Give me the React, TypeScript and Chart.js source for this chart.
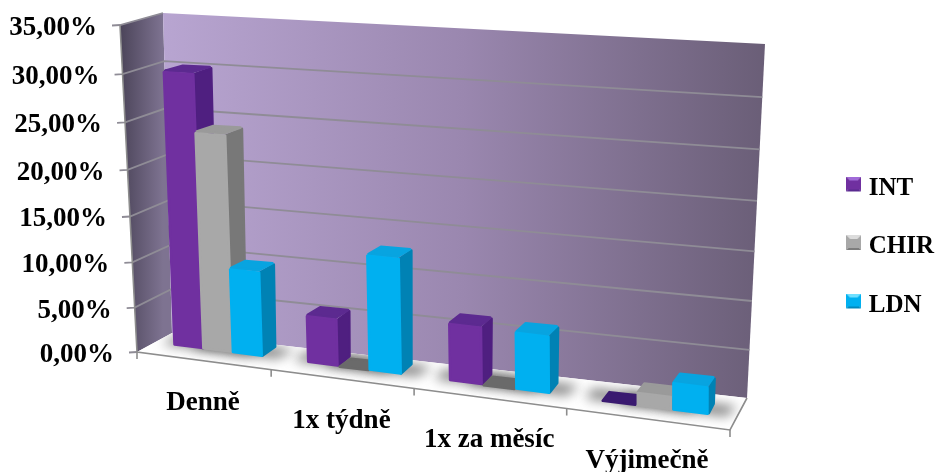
import React, { useEffect, useRef } from "react";
import { Chart, registerables } from "chart.js";

Chart.register(...registerables);

const categories = ["Denně", "1x týdně", "1x za měsíc", "Výjimečně"];
const intValues = [29.9, 5.3, 6.3, 0];
const chirValues = [23.8, 0, 0, 1.4];
const ldnValues = [9.5, 12.6, 6.2, 2.9];
const axisMax = 35;
const axisStep = 5;

const palette = {
  INT: { front: "#7030a0", side: "#4f1f80", top: "#5c2a90", flat: "#3a1a70", light: "#a06ad8", dark: "#5a2a90" },
  CHIR: { front: "#a8a8a8", side: "#787878", top: "#9a9a9a", flat: "#6a6a6a", light: "#dcdcdc", dark: "#7c7c7c" },
  LDN: { front: "#00b0f0", side: "#0082b4", top: "#08a4e0", flat: "#0a80b0", light: "#70e0ff", dark: "#0088bc" },
};

const serif = "'Liberation Serif', 'Times New Roman', serif";

// Corners of the box the plot stands in, on screen: F = front plane, B = back wall;
// first index is along the categories, second along the values.
const F00 = [137, 352];
const F10 = [730, 430];
const F01 = [120, 25];
const F11 = [725, 69];
const B00 = [172, 333];
const B10 = [747, 398];
const B01 = [163, 13];
const B11 = [765, 44];
const PERSPECTIVE_U = 1.14;
const PERSPECTIVE_V = 1.06;

const mix = (a: number, b: number, t: number) => a + (b - a) * t;

function project(u: number, v: number, w: number): [number, number] {
  const pu = u / (u + PERSPECTIVE_U * (1 - u));
  const pv = v / (v + PERSPECTIVE_V * (1 - v));
  const at = (i: number) =>
    mix(
      mix(mix(F00[i], F10[i], pu), mix(F01[i], F11[i], pu), pv),
      mix(mix(B00[i], B10[i], pu), mix(B01[i], B11[i], pu), pv),
      w
    );
  return [at(0), at(1)];
}

// Depth span of a column on the floor, which narrows toward the far side.
function depthSpan(u: number): [number, number] {
  const pu = u / (u + PERSPECTIVE_U * (1 - u));
  return [mix(0.46, 0.36, pu), mix(0.9, 0.66, pu)];
}

function poly(ctx: CanvasRenderingContext2D, pts: [number, number][]) {
  ctx.beginPath();
  pts.forEach((p, i) => (i ? ctx.lineTo(p[0], p[1]) : ctx.moveTo(p[0], p[1])));
  ctx.closePath();
}

// Fills a face with softened corners: pulled in a little, then stroked back out with round joins.
function fillFace(ctx: CanvasRenderingContext2D, pts: [number, number][], color: string) {
  const cx = pts.reduce((s, p) => s + p[0], 0) / pts.length;
  const cy = pts.reduce((s, p) => s + p[1], 0) / pts.length;
  const inset = 1.5;
  const inner = pts.map((p): [number, number] => {
    const dx = cx - p[0];
    const dy = cy - p[1];
    const len = Math.hypot(dx, dy) || 1;
    const k = Math.min(inset, len * 0.5);
    return [p[0] + (dx / len) * k, p[1] + (dy / len) * k];
  });
  poly(ctx, inner);
  ctx.fillStyle = color;
  ctx.fill();
  ctx.strokeStyle = color;
  ctx.lineWidth = 2.5;
  ctx.lineJoin = "round";
  ctx.stroke();
}

// Bevelled square used as the legend key; the empty strip below it lifts the square
// level with the capitals of the legend text.
function legendKey(c: { front: string; light: string; dark: string; side: string }) {
  const s = 15;
  const cv = document.createElement("canvas");
  cv.width = s;
  cv.height = s + 9;
  const g = cv.getContext("2d")!;
  const m = s / 2;
  const tri = (x1: number, y1: number, x2: number, y2: number, col: string) => {
    g.beginPath();
    g.moveTo(m, m);
    g.lineTo(x1, y1);
    g.lineTo(x2, y2);
    g.closePath();
    g.fillStyle = col;
    g.fill();
  };
  tri(0, 0, s, 0, c.light);
  tri(0, 0, 0, s, c.front);
  tri(s, 0, s, s, c.front);
  tri(0, s, s, s, c.dark);
  g.fillStyle = c.front;
  g.fillRect(2, 4, s - 4, s - 6);
  return cv;
}

const box3d = {
  id: "box3d",
  beforeDatasetsDraw(chart: any) {
    const { ctx, chartArea: area } = chart;
    const xs = chart.scales.x;
    const ys = chart.scales.y;
    const uOf = (px: number) => (px - area.left) / (area.right - area.left);
    const vOf = (px: number) => (area.bottom - px) / (area.bottom - area.top);

    ctx.save();

    // side wall
    let grad = ctx.createLinearGradient(F01[0], 0, B01[0], 0);
    grad.addColorStop(0, "#4b4459");
    grad.addColorStop(1, "#7e7391");
    poly(ctx, [project(0, 0, 0), project(0, 1, 0), project(0, 1, 1), project(0, 0, 1)]);
    ctx.fillStyle = grad;
    ctx.fill();

    // back wall
    grad = ctx.createLinearGradient(B01[0], 0, B11[0], 0);
    grad.addColorStop(0, "#b8a5d1");
    grad.addColorStop(0.5, "#9a87af");
    grad.addColorStop(1, "#6a5e77");
    poly(ctx, [project(0, 0, 1), project(0, 1, 1), project(1, 1, 1), project(1, 0, 1)]);
    ctx.fillStyle = grad;
    ctx.fill();

    // floor
    poly(ctx, [project(0, 0, 0), project(1, 0, 0), project(1, 0, 1), project(0, 0, 1)]);
    ctx.fillStyle = "#ffffff";
    ctx.fill();

    // value gridlines on both walls, with their outer ticks
    ys.ticks.forEach((t: any, i: number) => {
      const v = vOf(ys.getPixelForValue(t.value));
      const f = project(0, v, 0);
      const b = project(0, v, 1);
      const r = project(1, v, 1);
      ctx.strokeStyle = "#8f8c96";
      ctx.lineWidth = 1.8;
      ctx.beginPath();
      ctx.moveTo(f[0] - 8, f[1] + 0.5);
      ctx.lineTo(f[0], f[1]);
      if (i > 0) {
        ctx.lineTo(b[0], b[1]);
        if (t.value < axisMax) ctx.lineTo(r[0], r[1]);
      }
      ctx.stroke();
    });

    // box edges
    ctx.strokeStyle = "#8d8d8d";
    ctx.lineWidth = 1.6;
    ctx.beginPath();
    const c0 = project(0, 1, 0);
    const c1 = project(0, 0, 0);
    const c2 = project(1, 0, 0);
    const c3 = project(1, 0, 1);
    ctx.moveTo(c0[0], c0[1]);
    ctx.lineTo(c1[0], c1[1]);
    ctx.lineTo(c2[0], c2[1]);
    ctx.lineTo(c3[0], c3[1]);
    ctx.stroke();

    // category ticks below the floor's front edge
    categories.concat("").forEach((_, i) => {
      const p = project(uOf(xs.getPixelForValue(i - 0.5)), 0, 0);
      ctx.beginPath();
      ctx.moveTo(p[0], p[1]);
      ctx.lineTo(p[0], p[1] + 7);
      ctx.stroke();
    });

    const columns: any[] = [];
    categories.forEach((_, j) => {
      chart.data.datasets.forEach((ds: any, d: number) => {
        const el = chart.getDatasetMeta(d).data[j];
        const u0 = uOf(el.x - el.width / 2);
        const u1 = uOf(el.x + el.width / 2);
        const [w0, w1] = depthSpan((u0 + u1) / 2);
        columns.push({ u0, u1, w0, w1, v: vOf(el.y), colors: (palette as any)[ds.label] });
      });
    });

    // soft contact shadows on the floor
    ctx.save();
    poly(ctx, [project(0, 0, 0), project(1, 0, 0), project(1, 0, 1), project(0, 0, 1)]);
    ctx.clip();
    ctx.filter = "blur(6px)";
    ctx.fillStyle = "rgba(60,60,60,0.65)";
    columns.forEach((c) => {
      poly(ctx, [
        project(c.u0 - 0.026, 0, c.w0 + 0.02),
        project(c.u1 + 0.026, 0, c.w0 + 0.02),
        project(c.u1 + 0.034, 0, c.w1 + 0.04),
        project(c.u0 - 0.026, 0, c.w1 + 0.04),
      ]);
      ctx.fill();
    });
    ctx.filter = "none";
    ctx.restore();

    // columns, nearest the side wall first
    columns.forEach((c) => {
      const { u0, u1, w0, w1, v, colors } = c;
      if (v > 0.001) {
        fillFace(ctx, [project(u1, 0, w0), project(u1, 0, w1), project(u1, v, w1), project(u1, v, w0)], colors.side);
        fillFace(
          ctx,
          [project(u0, v, w0), project(u1, v, w0), project(u1, v, w1), project(u0, v, w1)],
          colors.top
        );
        fillFace(ctx, [project(u0, 0, w0), project(u1, 0, w0), project(u1, v, w0), project(u0, v, w0)], colors.front);
      } else {
        fillFace(
          ctx,
          [project(u0, v, w0), project(u1, v, w0), project(u1, v, w1), project(u0, v, w1)],
          colors.flat
        );
      }
    });

    // axis text follows the slanted edges of the box
    ctx.fillStyle = "#000000";
    ctx.font = `bold 27px ${serif}`;
    ctx.textBaseline = "middle";
    ctx.textAlign = "right";
    ys.ticks.forEach((t: any) => {
      const p = project(0, vOf(ys.getPixelForValue(t.value)), 0);
      ctx.fillText(t.label, p[0] - 23, p[1] + 3);
    });
    ctx.textAlign = "center";
    xs.ticks.forEach((t: any) => {
      const p = project(uOf(xs.getPixelForValue(t.value)), 0, 0);
      ctx.fillText(t.label, p[0], p[1] + 42);
    });

    ctx.restore();
    return false;
  },
};

export default function App() {
  const ref = useRef<HTMLCanvasElement>(null);

  useEffect(() => {
    const series = [
      { label: "INT", data: intValues },
      { label: "CHIR", data: chirValues },
      { label: "LDN", data: ldnValues },
    ];
    const chart = new Chart(ref.current!, {
      type: "bar",
      data: {
        labels: categories,
        datasets: series.map((s) => ({
          label: s.label,
          data: s.data,
          backgroundColor: (palette as any)[s.label].front,
          categoryPercentage: 2 / 3,
          barPercentage: 1,
        })),
      },
      options: {
        responsive: false,
        animation: false,
        layout: { padding: { top: 22, bottom: 0, left: 0, right: -6 } },
        scales: {
          x: { display: false },
          y: {
            display: false,
            min: 0,
            max: axisMax,
            ticks: {
              stepSize: axisStep,
              callback: (v: any) => `${Number(v).toFixed(2).replace(".", ",")}%`,
            },
          },
        },
        plugins: {
          tooltip: { enabled: false },
          legend: {
            position: "right",
            labels: {
              usePointStyle: true,
              pointStyleWidth: 5,
              padding: 33.5,
              color: "#000000",
              font: { family: serif, size: 25, weight: "bold" },
              generateLabels: () =>
                series.map((s, i) => ({
                  text: s.label,
                  datasetIndex: i,
                  pointStyle: legendKey((palette as any)[s.label]),
                  fontColor: "#000000",
                })),
            },
          },
        },
      },
      plugins: [box3d],
    } as any);
    return () => chart.destroy();
  }, []);

  return (
    <div style={{ position: "fixed", left: 0, top: 0, width: 938, height: 472, background: "#ffffff" }}>
      <canvas ref={ref} width={938} height={472} style={{ display: "block" }} />
    </div>
  );
}
